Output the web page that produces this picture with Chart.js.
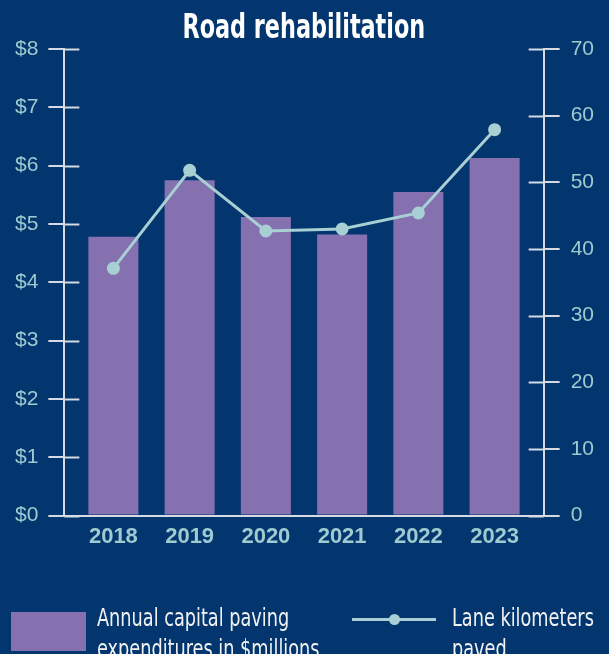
<!DOCTYPE html>
<html>
<head>
<meta charset="utf-8">
<script src="https://cdn.jsdelivr.net/npm/chart.js@4.4.0/dist/chart.umd.min.js"></script>
<style>
    html, body { margin: 0; padding: 0; background: #03366e; }
    #wrap { position: relative; width: 609px; height: 654px; overflow: hidden; }
    #title { position: absolute; left: 0; top: 6px; width: 609px; text-align: center; color: #fff;
        font-family: "DejaVu Sans Condensed", sans-serif; font-weight: bold; font-size: 34px; line-height: 40px;
        transform: scaleX(0.73); transform-origin: 302px 0; white-space: nowrap; }
    #legend { position: absolute; left: 0; top: 0; width: 609px; height: 654px; pointer-events: none;
        font-family: "DejaVu Sans Condensed", sans-serif; font-size: 24px; color: #f2f2f2; }
    .lg-text { position: absolute; line-height: 31px; white-space: nowrap; transform: scaleX(0.82); transform-origin: 0 0; }
</style>
</head>
<body>
<div id="wrap">
    <canvas id="road" width="609" height="654"></canvas>
    <div id="title">Road rehabilitation</div>
    <div id="legend">
        <div id="lg-bar" style="position:absolute;left:11px;top:612px;width:75px;height:39px;"></div>
        <div class="lg-text" style="left:97px;top:603px;">Annual capital paving<br>expenditures in $millions</div>
        <div id="lg-line" style="position:absolute;left:352px;top:618px;width:84px;height:3px;"></div>
        <div id="lg-dot" style="position:absolute;left:389px;top:614px;width:11px;height:11px;border-radius:50%;"></div>
        <div class="lg-text" style="left:452px;top:603px;">Lane kilometers<br>paved</div>
    </div>
</div>
<script>
const years = ['2018', '2019', '2020', '2021', '2022', '2023'];
const spending = [4.78, 5.75, 5.12, 4.82, 5.55, 6.13];
const laneKm = [37.1, 51.8, 42.7, 43.0, 45.4, 57.9];

const BAR_COLOR = '#8571b0';
const LINE_COLOR = '#a8cfd3';
const AXIS_COLOR = '#d5dae3';
const LABEL_COLOR = '#9ecad0';

document.getElementById('lg-bar').style.background = BAR_COLOR;
document.getElementById('lg-line').style.background = LINE_COLOR;
document.getElementById('lg-dot').style.background = LINE_COLOR;

//short tick marks that go into the plot area, the outer half comes from the grid
const innerTicks = {
    id: 'innerTicks',
    afterDatasetsDraw(chart) {
        const ctx = chart.ctx;
        ctx.save();
        ctx.strokeStyle = AXIS_COLOR;
        ctx.lineWidth = 2;
        ['y', 'y1'].forEach((id) => {
            const sc = chart.scales[id];
            const dir = id === 'y' ? 1 : -1;
            const x0 = id === 'y' ? sc.right : sc.left;
            sc.ticks.forEach((t) => {
                const py = Math.round(sc.getPixelForValue(t.value)) + 0.5;
                ctx.beginPath();
                ctx.moveTo(x0, py);
                ctx.lineTo(x0 + dir * 15, py);
                ctx.stroke();
            });
        });
        ctx.restore();
    }
};

const tickFont = {family: 'Liberation Sans', size: 21};

new Chart(document.getElementById('road').getContext('2d'), {
    data: {
        labels: years,
        datasets: [{
            type: 'line',
            label: 'Lane kilometers paved',
            data: laneKm,
            yAxisID: 'y1',
            borderColor: LINE_COLOR,
            backgroundColor: LINE_COLOR,
            borderWidth: 3,
            pointRadius: 5,
            pointHoverRadius: 5,
            tension: 0,
            order: 0
        }, {
            type: 'bar',
            label: 'Annual capital paving expenditures in $millions',
            data: spending,
            yAxisID: 'y',
            backgroundColor: BAR_COLOR,
            categoryPercentage: 1,
            barPercentage: 0.656,
            order: 1
        }]
    },
    options: {
        responsive: false,
        animation: false,
        layout: {padding: {left: 5, right: 4, top: 49, bottom: 96}},
        plugins: {
            legend: {display: false},
            tooltip: {enabled: false}
        },
        scales: {
            x: {
                type: 'linear',
                offset: false,
                min: 2017.357,
                max: 2023.643,
                afterBuildTicks: (sc) => { sc.ticks = years.map((y) => ({value: +y})); },
                grid: {display: false, drawTicks: false},
                border: {display: true, color: AXIS_COLOR, width: 2},
                ticks: {
                    color: LABEL_COLOR,
                    font: {family: 'Liberation Sans', size: 22, weight: 'bold'},
                    padding: 8,
                    callback: (v) => String(v)
                }
            },
            y: {
                position: 'left',
                min: 0,
                max: 8,
                grid: {drawOnChartArea: false, tickLength: 16, color: AXIS_COLOR, lineWidth: 2},
                border: {display: true, color: AXIS_COLOR, width: 2},
                ticks: {stepSize: 1, color: LABEL_COLOR, font: tickFont, padding: 10, callback: (v) => '$' + v}
            },
            y1: {
                position: 'right',
                min: 0,
                max: 70,
                grid: {drawOnChartArea: false, tickLength: 16, color: AXIS_COLOR, lineWidth: 2},
                border: {display: true, color: AXIS_COLOR, width: 2},
                ticks: {stepSize: 10, color: LABEL_COLOR, font: tickFont, padding: 11}
            }
        }
    },
    plugins: [innerTicks]
});
</script>
</body>
</html>
